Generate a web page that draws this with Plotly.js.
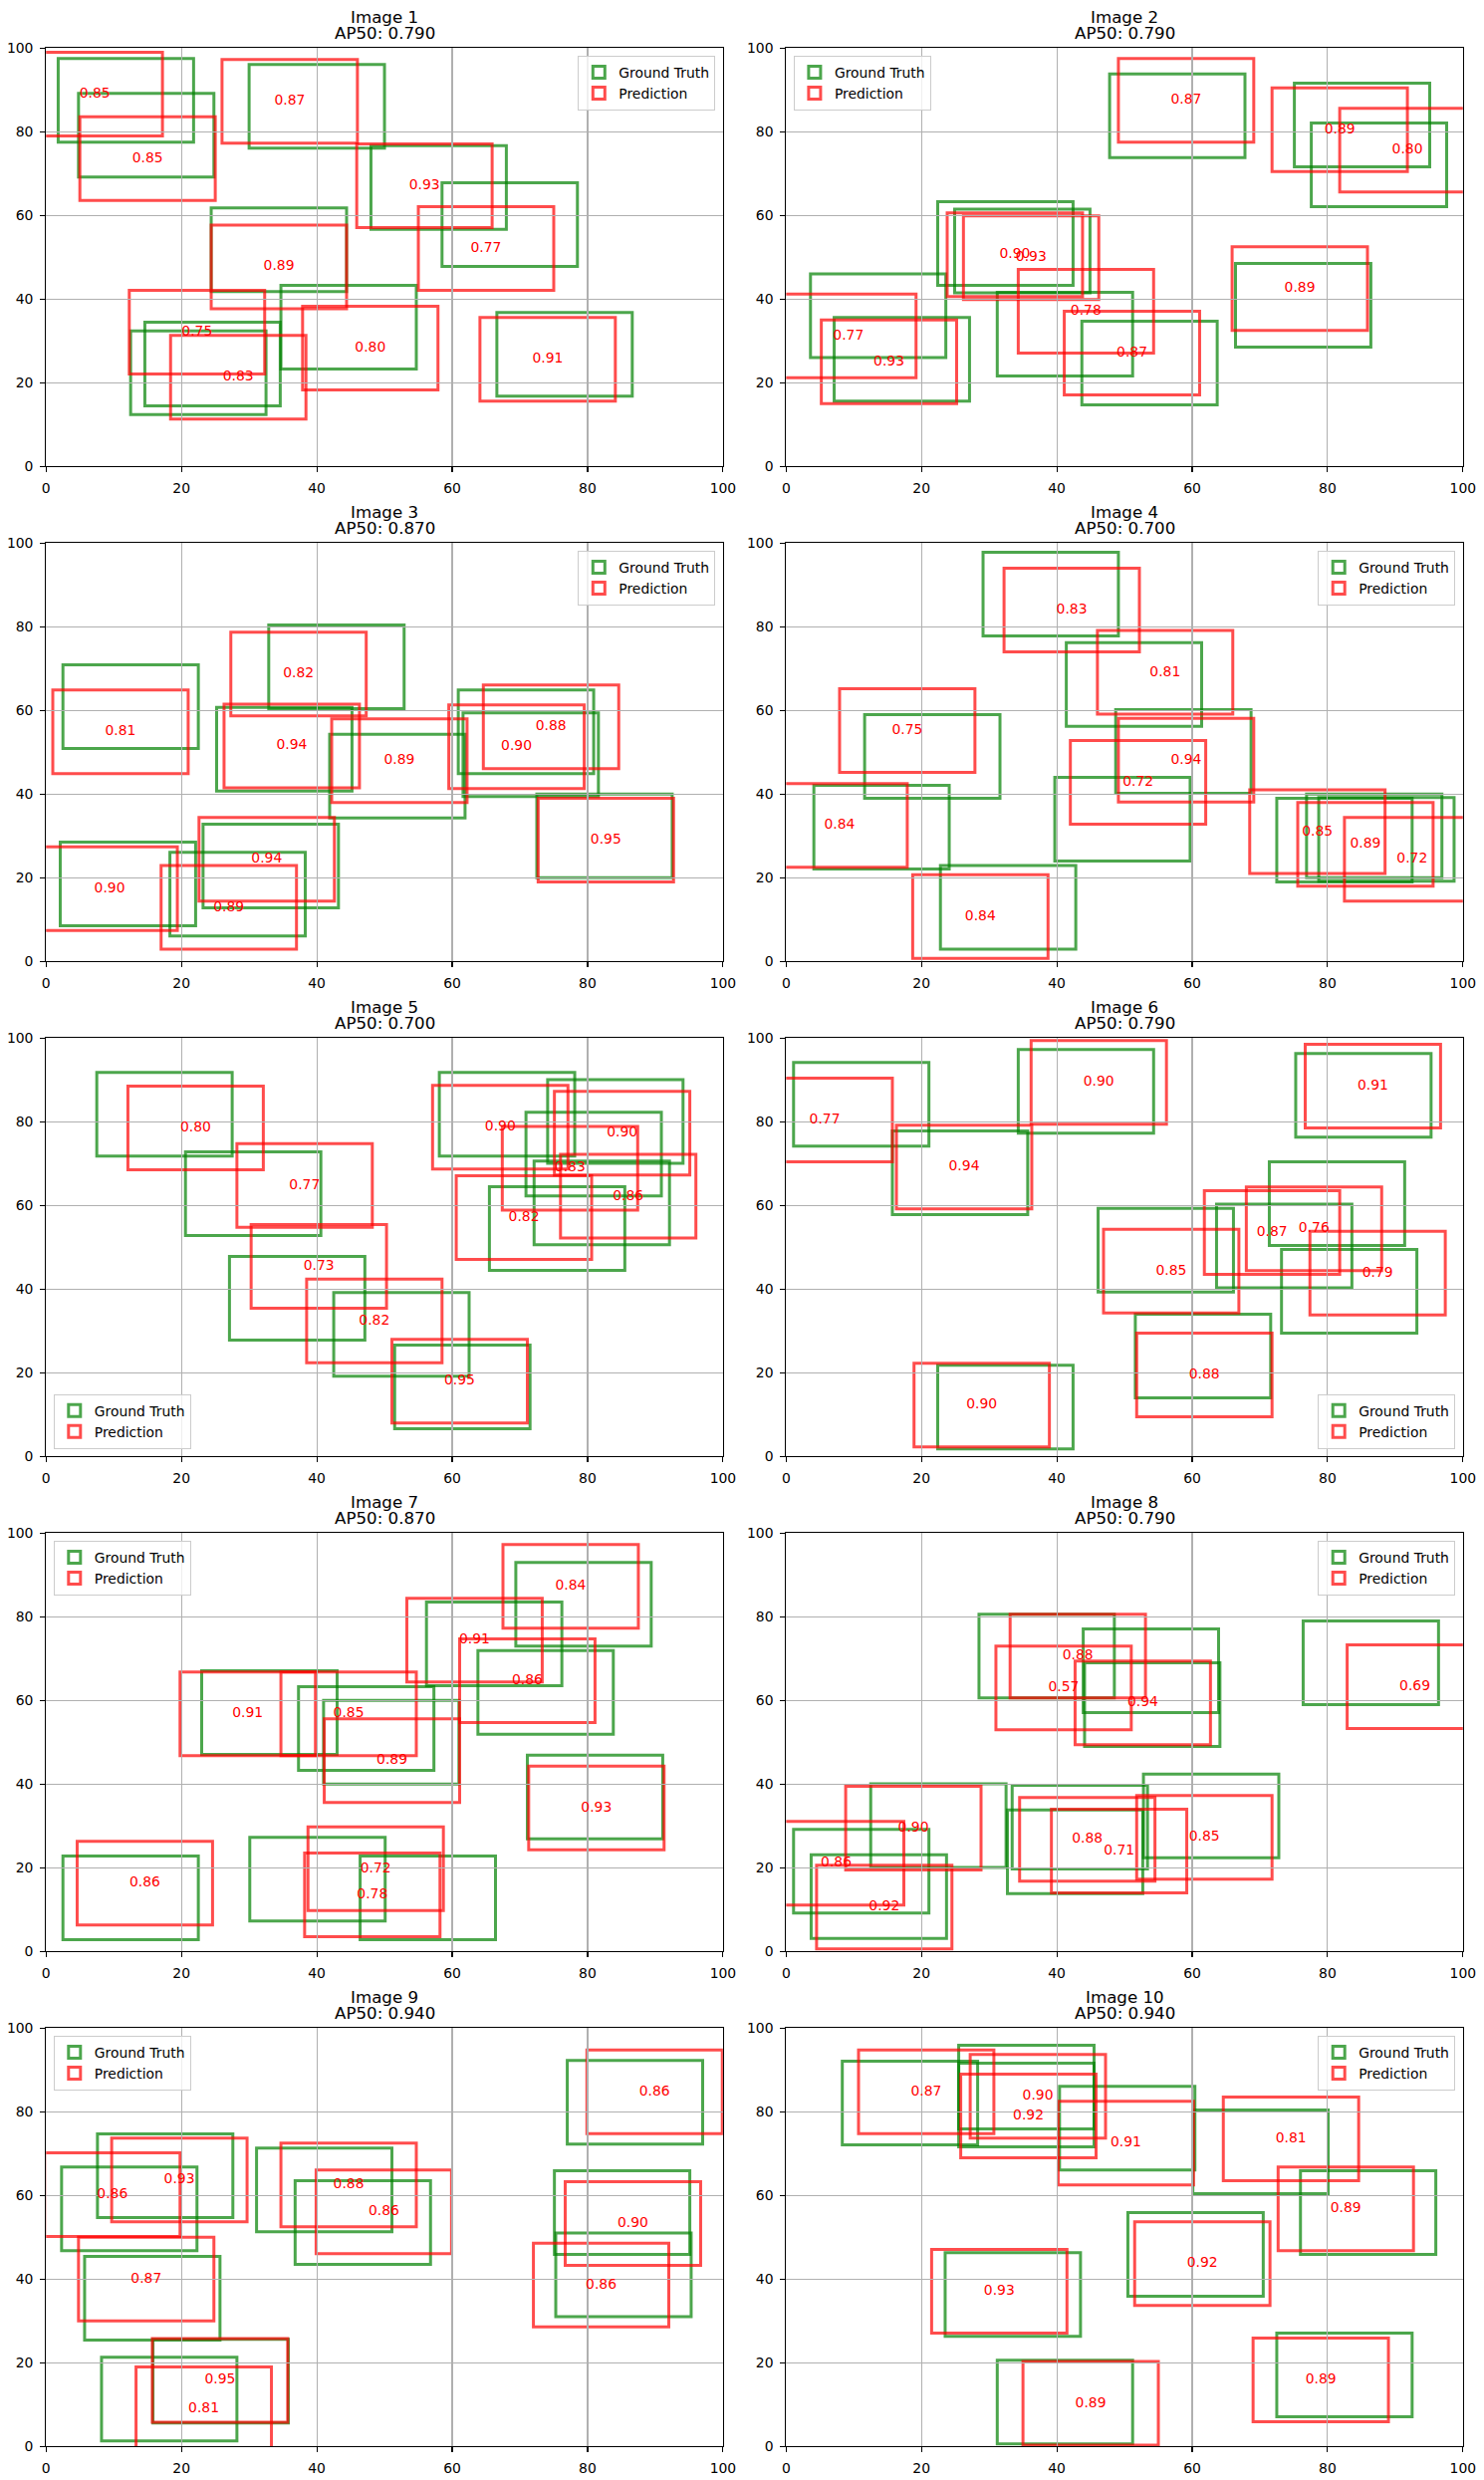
<!DOCTYPE html>
<html><head><meta charset="utf-8">
<script src="https://cdn.plot.ly/plotly-3.0.1.min.js"></script>
<style>html,body{margin:0;padding:0;background:#fff}#chart{width:1490px;height:2490px}</style>
</head><body><div id="chart"></div>
<script>
// ---------------- DATA ----------------
const imageNames = ['Image 1','Image 2','Image 3','Image 4','Image 5','Image 6','Image 7','Image 8','Image 9','Image 10'];
const ap50 = [0.79, 0.79, 0.87, 0.70, 0.70, 0.79, 0.87, 0.79, 0.94, 0.94];

const gt1X = [1.8, 4.8, 30.0, 48.0, 58.5, 24.4, 34.7, 14.6, 12.5, 66.6];
const gt1Y = [77.5, 69.2, 76.1, 56.7, 47.8, 41.8, 23.3, 14.5, 12.4, 16.8];
const pr1X = [-2.8, 5.0, 26.0, 45.9, 55.0, 24.4, 12.3, 37.9, 18.4, 64.1];
const pr1Y = [79.0, 63.6, 77.3, 57.1, 42.1, 37.7, 22.1, 18.3, 11.3, 15.6];
const pr1S = [0.85, 0.85, 0.87, 0.93, 0.77, 0.89, 0.75, 0.80, 0.83, 0.91];

const gt2X = [47.8, 75.1, 77.6, 22.4, 24.9, 3.6, 7.1, 31.2, 43.7, 66.4];
const gt2Y = [73.8, 71.6, 62.1, 43.3, 41.5, 26.0, 15.6, 21.6, 14.7, 28.5];
const pr2X = [49.1, 71.8, 81.8, 23.8, 26.2, 34.3, 41.1, -0.8, 5.2, 65.9];
const pr2Y = [77.5, 70.5, 65.6, 40.6, 39.9, 27.1, 17.1, 21.2, 15.0, 32.5];
const pr2S = [0.87, 0.89, 0.80, 0.90, 0.93, 0.78, 0.87, 0.77, 0.93, 0.89];

const gt3X = [2.5, 32.9, 25.2, 41.9, 60.9, 61.6, 72.5, 2.1, 23.2, 18.3];
const gt3Y = [50.9, 60.4, 40.7, 34.3, 44.9, 39.4, 20.0, 8.5, 12.8, 6.1];
const pr3X = [1.0, 27.3, 26.3, 42.2, 59.5, 64.6, 72.7, -0.6, 22.6, 17.0];
const pr3Y = [44.9, 58.7, 41.5, 38.0, 41.3, 46.1, 19.0, 7.4, 14.4, 2.9];
const pr3S = [0.81, 0.82, 0.94, 0.89, 0.90, 0.88, 0.95, 0.90, 0.94, 0.89];

const gt4X = [29.1, 41.4, 11.6, 48.7, 4.1, 39.7, 22.8, 72.5, 76.9, 78.7];
const gt4Y = [77.8, 56.2, 39.0, 40.2, 22.1, 24.0, 2.9, 19.0, 20.0, 19.2];
const pr4X = [32.2, 46.0, 7.9, 49.1, 42.0, -2.1, 18.7, 68.5, 75.6, 82.5];
const pr4Y = [74.0, 59.1, 45.2, 38.1, 32.8, 22.5, 0.7, 21.0, 18.0, 14.4];
const pr4S = [0.83, 0.81, 0.75, 0.94, 0.72, 0.84, 0.84, 0.85, 0.89, 0.72];

const gt5X = [7.5, 20.6, 27.1, 42.5, 51.5, 58.1, 74.1, 70.9, 72.1, 65.5];
const gt5Y = [71.8, 52.8, 27.8, 19.2, 6.6, 71.8, 70.1, 62.3, 50.6, 44.5];
const pr5X = [12.1, 28.2, 30.3, 38.5, 51.1, 57.1, 75.1, 67.4, 76.0, 60.6];
const pr5Y = [68.5, 54.8, 35.4, 22.4, 8.0, 68.7, 67.3, 58.9, 52.2, 47.1];
const pr5S = [0.80, 0.77, 0.73, 0.82, 0.95, 0.90, 0.90, 0.83, 0.86, 0.82];

const gt6X = [1.1, 34.3, 15.7, 75.3, 71.4, 63.6, 46.1, 73.2, 51.6, 22.4];
const gt6Y = [74.2, 77.3, 57.8, 76.3, 50.4, 40.3, 39.3, 29.5, 14.0, 1.8];
const pr6X = [-4.3, 36.2, 16.3, 76.7, 61.8, 68.0, 77.4, 46.9, 51.8, 18.9];
const pr6Y = [70.4, 79.4, 59.2, 78.5, 43.5, 44.4, 33.8, 34.3, 9.5, 2.3];
const pr6S = [0.77, 0.90, 0.94, 0.91, 0.87, 0.76, 0.79, 0.85, 0.88, 0.90];

const gt7X = [69.4, 56.2, 63.8, 23.0, 37.3, 41.0, 71.1, 2.5, 30.1, 46.4];
const gt7Y = [73.0, 63.5, 51.9, 47.1, 43.3, 40.0, 26.9, 2.8, 7.3, 2.8];
const pr7X = [67.5, 53.3, 61.1, 19.8, 34.7, 41.1, 71.3, 4.6, 38.7, 38.2];
const pr7Y = [77.3, 64.4, 54.7, 46.8, 46.8, 35.6, 24.3, 6.3, 9.8, 3.5];
const pr7S = [0.84, 0.91, 0.86, 0.91, 0.85, 0.89, 0.93, 0.86, 0.72, 0.78];

const gt8X = [28.5, 43.9, 44.1, 76.4, 12.5, 1.1, 3.7, 33.4, 32.7, 52.8];
const gt8Y = [60.6, 57.1, 49.0, 59.0, 20.1, 9.2, 3.1, 19.7, 13.8, 22.4];
const pr8X = [33.1, 31.0, 42.7, 82.9, 8.8, -2.6, 4.5, 34.5, 39.2, 51.8];
const pr8Y = [60.6, 53.0, 49.4, 53.3, 19.5, 11.1, 0.6, 16.8, 14.0, 17.3];
const pr8S = [0.88, 0.57, 0.94, 0.69, 0.90, 0.86, 0.92, 0.88, 0.71, 0.85];

const gt9X = [77.0, 7.6, 2.3, 31.1, 36.8, 75.1, 75.3, 5.7, 15.8, 8.2];
const gt9Y = [72.3, 54.7, 46.8, 51.3, 43.5, 45.9, 31.0, 25.4, 5.6, 1.3];
const pr9X = [79.9, 9.7, -0.2, 34.7, 39.9, 76.7, 72.0, 4.8, 15.7, 13.3];
const pr9Y = [74.8, 53.7, 50.2, 52.5, 46.1, 43.3, 28.6, 30.0, 5.8, -1.0];
const pr9S = [0.86, 0.93, 0.86, 0.88, 0.86, 0.90, 0.86, 0.87, 0.95, 0.81];

const gt10X = [8.3, 25.5, 25.5, 40.4, 60.1, 76.0, 50.5, 23.5, 31.2, 72.5];
const gt10Y = [72.1, 75.9, 71.6, 66.1, 60.4, 45.9, 35.9, 26.3, 0.6, 7.1];
const pr10X = [10.7, 27.2, 25.8, 40.2, 64.6, 72.7, 51.5, 21.5, 35.0, 69.0];
const pr10Y = [74.8, 73.7, 69.0, 62.5, 63.5, 46.8, 33.7, 27.1, 0.3, 5.9];
const pr10S = [0.87, 0.90, 0.92, 0.91, 0.81, 0.89, 0.92, 0.93, 0.89, 0.89];

const tickVals = [0, 20, 40, 60, 80, 100];
const tickText = ['0', '20', '40', '60', '80', '100'];

const gtXs = [gt1X, gt2X, gt3X, gt4X, gt5X, gt6X, gt7X, gt8X, gt9X, gt10X];
const gtYs = [gt1Y, gt2Y, gt3Y, gt4Y, gt5Y, gt6Y, gt7Y, gt8Y, gt9Y, gt10Y];
const prXs = [pr1X, pr2X, pr3X, pr4X, pr5X, pr6X, pr7X, pr8X, pr9X, pr10X];
const prYs = [pr1Y, pr2Y, pr3Y, pr4Y, pr5Y, pr6Y, pr7Y, pr8Y, pr9Y, pr10Y];
const prSs = [pr1S, pr2S, pr3S, pr4S, pr5S, pr6S, pr7S, pr8S, pr9S, pr10S];

// ---------------- LAYOUT / STYLE ----------------
const BOX = 20;                 // box width/height in data units
const legendLoc = ['ur','ul','ur','ur','ll','lr','ul','ur','ul','ur'];
const W = 1490, H = 2490;
const colPx = [[46.2, 725.9], [789.3, 1468.8]];
const rowTop0 = 48.3, rowStep = 497, axH = 420;
const FONT = 'DejaVu Sans, Verdana, sans-serif';
const GREEN = 'rgba(0,128,0,0.7)';
const RED = 'rgba(255,0,0,0.7)';
const LW = 3;

const shapes = [], annotations = [], traces = [];
const layout = {
  width: W, height: H,
  margin: {l: 0, r: 0, t: 0, b: 0},
  paper_bgcolor: '#ffffff', plot_bgcolor: '#ffffff',
  showlegend: true, hovermode: false,
  font: {family: FONT, color: '#000'},
  shapes: shapes, annotations: annotations
};

function axisCfg(domain, anchor) {
  return {
    domain: domain, anchor: anchor, range: [0, 100], autorange: false,
    tickmode: 'array', tickvals: tickVals, ticktext: tickText,
    showgrid: true, gridcolor: '#b0b0b0', gridwidth: 1.1,
    zeroline: false, showline: true, linecolor: '#000', linewidth: 1.1, mirror: true,
    ticks: 'outside', ticklen: 4.9, tickwidth: 1.1, tickcolor: '#000',
    tickfont: {family: FONT, size: 13.9, color: '#000'},
    ticklabelstandoff: 4, fixedrange: true
  };
}

for (let k = 0; k < 10; k++) {
  const n = k + 1;
  const sfx = n === 1 ? '' : String(n);
  const xa = 'x' + sfx, ya = 'y' + sfx;
  const col = k % 2, row = Math.floor(k / 2);
  const xpx = colPx[col];
  const top = rowTop0 + row * rowStep, bot = top + axH;
  layout['xaxis' + sfx] = axisCfg([xpx[0] / W, xpx[1] / W], ya);
  layout['yaxis' + sfx] = axisCfg([1 - bot / H, 1 - top / H], xa);
  const legId = n === 1 ? 'legend' : 'legend' + n;

  const gx = gtXs[k], gy = gtYs[k];
  for (let i = 0; i < gx.length; i++) {
    shapes.push({type: 'rect', xref: xa, yref: ya,
      x0: gx[i], x1: gx[i] + BOX, y0: gy[i], y1: gy[i] + BOX,
      line: {color: GREEN, width: LW}, fillcolor: 'rgba(0,0,0,0)', layer: 'below',
      showlegend: i === 0, name: 'Ground Truth', legend: legId, legendgroup: 'gt' + n});
  }
  const px = prXs[k], py = prYs[k], ps = prSs[k];
  for (let i = 0; i < px.length; i++) {
    shapes.push({type: 'rect', xref: xa, yref: ya,
      x0: px[i], x1: px[i] + BOX, y0: py[i], y1: py[i] + BOX,
      line: {color: RED, width: LW}, fillcolor: 'rgba(0,0,0,0)', layer: 'below',
      showlegend: i === 0, name: 'Prediction', legend: legId, legendgroup: 'pr' + n});
  }
  traces.push({type: 'scatter', mode: 'text', xaxis: xa, yaxis: ya,
    x: px.map(v => v + BOX / 2), y: py.map(v => v + BOX / 2),
    text: ps.map(s => s.toFixed(2)), textposition: 'middle center',
    textfont: {family: FONT, size: 13.9, color: '#ff0000'},
    showlegend: false, hoverinfo: 'skip', cliponaxis: true});

  annotations.push({xref: xa + ' domain', yref: ya + ' domain', x: 0.5, y: 1,
    xanchor: 'center', yanchor: 'bottom', yshift: 19, showarrow: false,
    text: imageNames[k], font: {family: FONT, size: 16.67, color: '#000'}});
  annotations.push({xref: xa + ' domain', yref: ya + ' domain', x: 0.5, y: 1,
    xanchor: 'center', yanchor: 'bottom', yshift: 3, showarrow: false,
    text: 'AP50: ' + ap50[k].toFixed(3), font: {family: FONT, size: 16.67, color: '#000'}});

  const loc = legendLoc[k];
  const off = 7.6;
  const lx = loc[1] === 'r' ? (xpx[1] - off) / W : (xpx[0] + off) / W;
  const ly = loc[0] === 'u' ? 1 - (top + off) / H : 1 - (bot - off) / H;
  layout[legId] = {
    xref: 'paper', yref: 'paper', x: lx, y: ly,
    xanchor: loc[1] === 'r' ? 'right' : 'left',
    yanchor: loc[0] === 'u' ? 'top' : 'bottom',
    bgcolor: 'rgba(255,255,255,0.8)', bordercolor: '#cccccc', borderwidth: 1,
    font: {family: FONT, size: 13.9, color: '#000'},
    tracegroupgap: 0, itemclick: false, itemdoubleclick: false
  };
}

Plotly.newPlot('chart', traces, layout, {displayModeBar: false, staticPlot: true});
</script>
</body></html>
